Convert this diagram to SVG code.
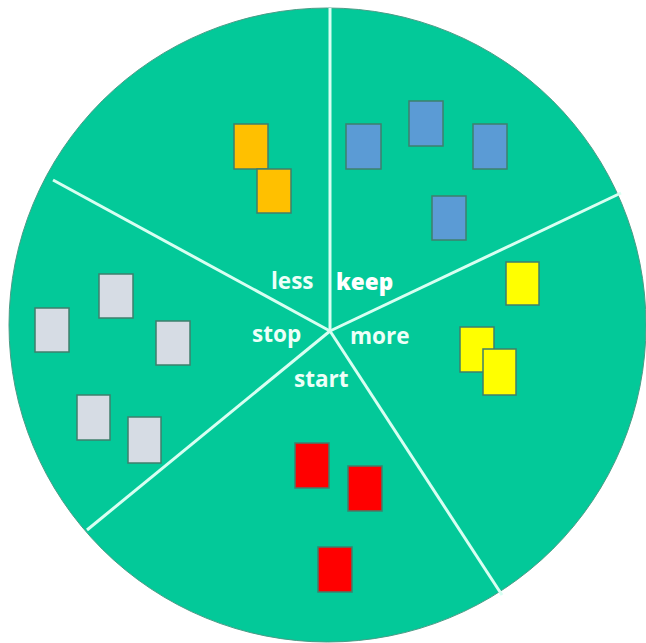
<svg xmlns="http://www.w3.org/2000/svg" width="646" height="643" viewBox="0 0 646 643">
  <style>
    .note { stroke: #3f7f6c; stroke-width: 1.5; }
    .orange { fill: #FFC000; }
    .blue { fill: #5B9BD5; }
    .yellow { fill: #FFFF00; }
    .red { fill: #FF0000; }
    .gray { fill: #D6DCE4; }
    .div { stroke: #D8FFF2; stroke-width: 3; fill: none; }
    .lbl { font-family: "Open Sans", "Liberation Sans", sans-serif; font-size: 22.5px; font-weight: 700; fill: #EEFFF8; }
    .lbl.keep { font-weight: 800; fill: #FFFFFF; }
  </style>
  <rect width="646" height="643" fill="#FFFFFF"/>
  <g id="wheel">
    <ellipse cx="327.5" cy="325" rx="318.5" ry="317" fill="#03C999" stroke="#4a9c86" stroke-width="1"/>
  </g>
  <g id="connectors">
    <line class="div" x1="330" y1="331" x2="330" y2="8"/>
    <line class="div" x1="330" y1="331" x2="621" y2="193"/>
    <line class="div" x1="330" y1="331" x2="502" y2="595"/>
    <line class="div" x1="330" y1="331" x2="87" y2="530"/>
    <line class="div" x1="330" y1="331" x2="53" y2="180"/>
  </g>
  <g id="less">
    <text class="lbl" x="271" y="289">less</text>
    <rect class="note orange" x="234" y="124" width="34" height="45"/>
    <rect class="note orange" x="257" y="169" width="34" height="44"/>
  </g>
  <g id="keep">
    <text class="lbl keep" x="336" y="290">keep</text>
    <rect class="note blue" x="346" y="124" width="35" height="45"/>
    <rect class="note blue" x="409" y="101" width="34" height="45"/>
    <rect class="note blue" x="473" y="124" width="34" height="45"/>
    <rect class="note blue" x="432" y="196" width="34" height="44"/>
  </g>
  <g id="more">
    <text class="lbl" x="350" y="344">more</text>
    <rect class="note yellow" x="506" y="262" width="33" height="43"/>
    <rect class="note yellow" x="460" y="327" width="34" height="45"/>
    <rect class="note yellow" x="483" y="349" width="33" height="46"/>
  </g>
  <g id="start">
    <text class="lbl" x="294" y="387">start</text>
    <rect class="note red" x="295" y="443" width="34" height="45"/>
    <rect class="note red" x="348" y="466" width="34" height="45"/>
    <rect class="note red" x="318" y="547" width="34" height="45"/>
  </g>
  <g id="stop">
    <text class="lbl" x="252" y="342">stop</text>
    <rect class="note gray" x="99" y="274" width="34" height="44"/>
    <rect class="note gray" x="35" y="308" width="34" height="44"/>
    <rect class="note gray" x="156" y="321" width="34" height="44"/>
    <rect class="note gray" x="77" y="395" width="33" height="45"/>
    <rect class="note gray" x="128" y="417" width="33" height="46"/>
  </g>
</svg>
